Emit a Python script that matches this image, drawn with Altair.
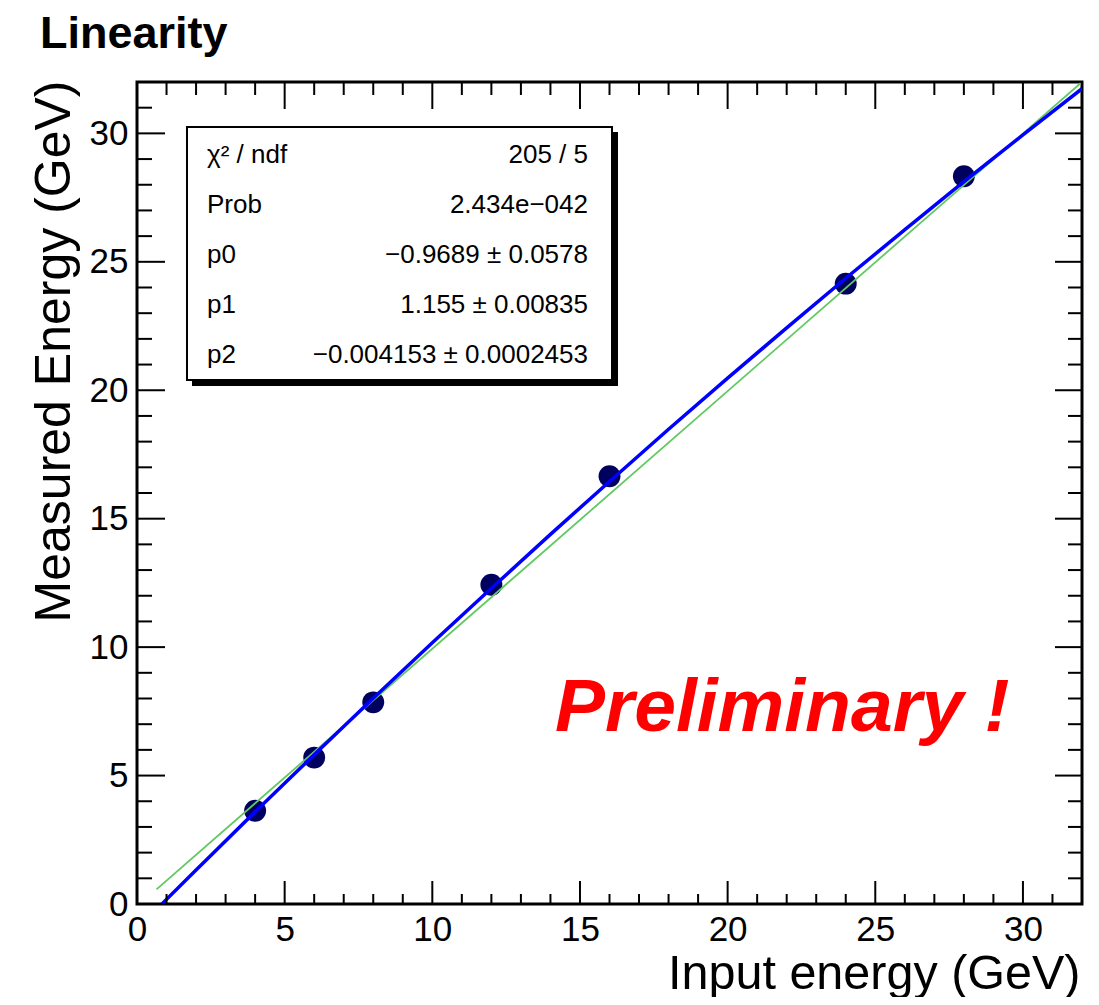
import altair as alt
import pandas as pd

# ---- data ----
energy_in = [4, 6, 8, 12, 16, 24, 28]
energy_meas = [3.63, 5.70, 7.85, 12.43, 16.65, 24.15, 28.33]

# blue fitted curve (pol2) as drawn
fit_x = [0.84, 2, 4, 6, 8, 10, 12, 14, 16, 18, 20, 22, 24, 26, 28, 30, 32]
fit_y = [0.0, 1.32, 3.59, 5.81, 8.01, 10.17, 12.29, 14.39, 16.45, 18.48,
         20.47, 22.43, 24.36, 26.25, 28.12, 29.94, 31.74]

# green straight line as drawn
lin_x = [0.66, 31.95]
lin_y = [0.57, 31.95]

major_ticks = [0, 5, 10, 15, 20, 25, 30]
minor_ticks = [v for v in range(1, 32) if v % 5 != 0]

stat_labels = ["χ² / ndf", "Prob", "p0", "p1", "p2"]
stat_values = ["205 / 5", "2.434e−042", "−0.9689 ± 0.0578",
               "1.155 ± 0.00835", "−0.004153 ± 0.0002453"]

W, H = 945, 822
FONT = "Liberation Sans"

xs = alt.Scale(domain=[0, 32], nice=False, zero=False)
ys = alt.Scale(domain=[0, 32], nice=False, zero=False)

xaxis = alt.Axis(values=major_ticks, grid=False, domain=False, ticks=False, tickSize=0,
                 labelFont=FONT, labelFontSize=35, labelColor="black",
                 labelPadding=36, labelBaseline="alphabetic", labelFlush=False,
                 labelOverlap=False,
                 titleFont=FONT, titleFontSize=48.5, titleFontWeight="normal",
                 titleColor="black", titleX=W - 2, titleY=84,
                 titleAlign="right", titleBaseline="alphabetic")
yaxis = alt.Axis(values=major_ticks, grid=False, domain=False, ticks=False, tickSize=0,
                 labelFont=FONT, labelFontSize=35, labelColor="black",
                 labelPadding=9, labelFlush=False, labelOverlap=False,
                 titleFont=FONT, titleFontSize=50, titleFontWeight="normal",
                 titleColor="black", titleX=-68, titleY=-2, titleAngle=270,
                 titleAlign="right", titleBaseline="alphabetic")

XT = "Input energy (GeV)"
YT = "Measured Energy (GeV)"


def X(f):
    return alt.X(f, type="quantitative", scale=xs, axis=xaxis, title=XT)


def Y(f):
    return alt.Y(f, type="quantitative", scale=ys, axis=yaxis, title=YT)


pts = pd.DataFrame({"x": energy_in, "y": energy_meas})
fit = pd.DataFrame({"x": fit_x, "y": fit_y})
lin = pd.DataFrame({"x": lin_x, "y": lin_y})
maj = pd.DataFrame({"v": major_ticks})
mino = pd.DataFrame({"v": minor_ticks})
one = pd.DataFrame({"a": [0]})
stats = pd.DataFrame({"lab": ["\n".join(stat_labels)], "val": ["\n".join(stat_values)]})
prelim = pd.DataFrame({"t": ["Preliminary !"]})
ttl = pd.DataFrame({"t": ["Linearity"]})

points = alt.Chart(pts).mark_point(filled=True, shape="circle", size=480,
                                   color="#00005e", opacity=1).encode(x=X("x"), y=Y("y"))
green = alt.Chart(lin).mark_line(color="#62c962", strokeWidth=1.8, clip=True).encode(
    x=X("x"), y=Y("y"))
blue = alt.Chart(fit).mark_line(color="#0000ff", strokeWidth=3.5, clip=True,
                                interpolate="monotone").encode(x=X("x"), y=Y("y"))


def xticks(df, y0, y1):
    return alt.Chart(df).mark_rule(color="black", strokeWidth=2).encode(
        x=X("v"), y=alt.value(y0), y2=alt.value(y1))


def yticks(df, x0, x1):
    return alt.Chart(df).mark_rule(color="black", strokeWidth=2).encode(
        y=Y("v"), x=alt.value(x0), x2=alt.value(x1))


ticks = [
    xticks(maj, H, H - 23), xticks(mino, H, H - 10),
    xticks(maj, 0, 27), xticks(mino, 0, 13),
    yticks(maj, 0, 28), yticks(mino, 0, 15),
    yticks(maj, W, W - 27), yticks(mino, W, W - 14),
]

shadow = alt.Chart(one).mark_rect(color="black").encode(
    x=alt.value(55), x2=alt.value(481), y=alt.value(50), y2=alt.value(304))
box = alt.Chart(one).mark_rect(fill="white", stroke="black", strokeWidth=2).encode(
    x=alt.value(50), x2=alt.value(475), y=alt.value(45), y2=alt.value(298))
lab_txt = alt.Chart(stats).mark_text(font=FONT, fontSize=26, align="left",
                                     baseline="alphabetic", lineBreak="\n",
                                     lineHeight=50, color="black").encode(
    text="lab:N", x=alt.value(70), y=alt.value(81))
val_txt = alt.Chart(stats).mark_text(font=FONT, fontSize=26, align="right",
                                     baseline="alphabetic", lineBreak="\n",
                                     lineHeight=50, color="black").encode(
    text="val:N", x=alt.value(451), y=alt.value(81))

prelim_txt = alt.Chart(prelim).mark_text(font=FONT, fontSize=75, fontStyle="italic",
                                         fontWeight="bold", color="#ff0000",
                                         align="left", baseline="alphabetic").encode(
    text="t:N", x=alt.value(418), y=alt.value(649))
title_txt = alt.Chart(ttl).mark_text(font=FONT, fontSize=45, fontWeight="bold",
                                     color="black", align="left",
                                     baseline="alphabetic").encode(
    text="t:N", x=alt.value(-97), y=alt.value(-34))

chart = alt.layer(
    points, green, blue, *ticks, shadow, box, lab_txt, val_txt, prelim_txt, title_txt
).properties(
    width=W, height=H,
    autosize=alt.AutoSizeParams(type="none"),
    padding={"left": 129, "top": 74, "right": 5, "bottom": 93},
    background="white",
).configure_view(stroke="black", strokeWidth=3)

chart.save("out.html", embed_options={"renderer": "svg", "actions": False})
